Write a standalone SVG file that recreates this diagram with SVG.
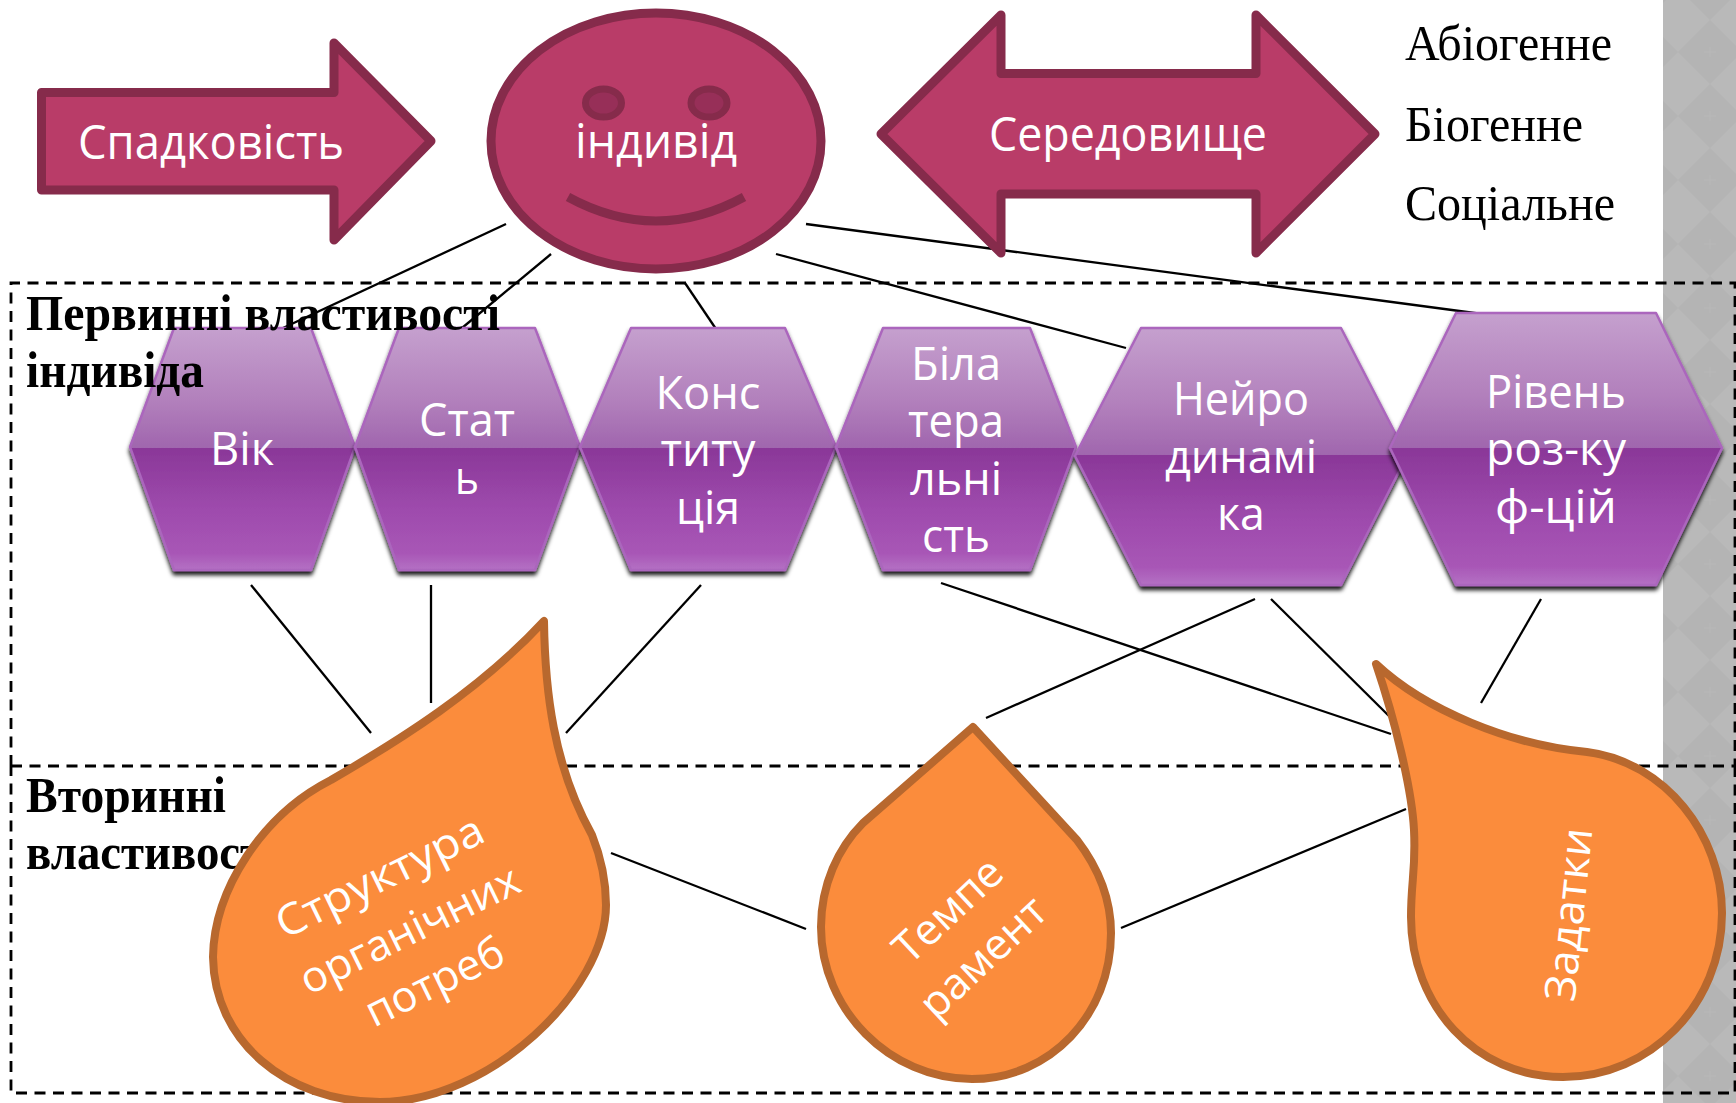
<svg xmlns="http://www.w3.org/2000/svg" width="1736" height="1103" viewBox="0 0 1736 1103">
<defs>
<style>
.sans{font-family:"Open Sans","Noto Sans",sans-serif;fill:#fff;font-size:46px;text-anchor:middle}
.big{font-size:48px}
.drop-t{font-size:43px}
.serif{font-family:"Liberation Serif",serif;fill:#000;font-size:50px}
.bold{font-weight:bold}
.shape-r{fill:#b93c68;stroke:#862b4b;stroke-width:9;stroke-linejoin:round}
.hex{fill:url(#hexg);stroke:#ab66bd;stroke-width:2.5;stroke-linejoin:round;filter:url(#hexsh)}
.drop{fill:#fb8c3c;stroke:#b8682e;stroke-width:8;stroke-linejoin:round}
.dash{fill:none;stroke:#000;stroke-width:2.8;stroke-dasharray:11 7.5}
.conn line{stroke:#000;stroke-width:2.3}
</style>
<linearGradient id="hexg" x1="0" y1="0" x2="0" y2="1">
<stop offset="0" stop-color="#c5a0ce"/><stop offset=".3" stop-color="#b280bc"/><stop offset=".495" stop-color="#a066ae"/>
<stop offset=".495" stop-color="#8a3798"/><stop offset=".75" stop-color="#9e4bad"/><stop offset=".93" stop-color="#a856b6"/><stop offset="1" stop-color="#b471c4"/>
</linearGradient>
<filter id="hexsh" x="-10%" y="-10%" width="120%" height="125%"><feDropShadow dx="0" dy="4" stdDeviation="2" flood-color="#000" flood-opacity=".9"/></filter>
<pattern id="tile" patternUnits="userSpaceOnUse" x="1678" y="20" width="64" height="64">
<rect width="64" height="64" fill="#b9b9b9"/>
<path d="M32,0L64,32L32,64L0,32Z" fill="#b4b4b4"/>
<path d="M32,27V37M26,32H38" stroke="#b9b9b9" stroke-width="1" fill="none"/>
</pattern>
</defs>
<rect width="1736" height="1103" fill="#fff"/>
<rect x="1663" y="0" width="73" height="1103" fill="url(#tile)"/>

<g id="frames">
<path class="dash" d="M11,766V283H1735V766"/>
<path class="dash" d="M1735,766V1093H11V766"/>
<path class="dash" d="M11,766H1735"/>
</g>

<g id="connectors" class="conn">
<line x1="506" y1="224" x2="283" y2="328"/>
<line x1="551" y1="254" x2="462" y2="328"/>
<line x1="685" y1="283" x2="716" y2="329"/>
<line x1="776" y1="254" x2="1126" y2="348"/>
<line x1="806" y1="224" x2="1482" y2="314"/>
<line x1="251" y1="585" x2="371" y2="733"/>
<line x1="431" y1="585" x2="431" y2="703"/>
<line x1="701" y1="585" x2="566" y2="733"/>
<line x1="941" y1="583" x2="1391" y2="734"/>
<line x1="1255" y1="599" x2="986" y2="718"/>
<line x1="1271" y1="599" x2="1391" y2="718"/>
<line x1="1541" y1="599" x2="1481" y2="703"/>
<line x1="611" y1="853" x2="806" y2="929"/>
<line x1="1121" y1="928" x2="1406" y2="809"/>
</g>

<g id="spadkovist">
<path class="shape-r" d="M41.5,92.5H334V43L431,141L334,240V190H41.5Z"/>
<text class="sans big" x="211" y="159" textLength="266" lengthAdjust="spacingAndGlyphs">Спадковість</text>
</g>
<g id="individ">
<ellipse class="shape-r" cx="656" cy="141" rx="165" ry="128"/>
<ellipse cx="603.5" cy="103" rx="18" ry="14" fill="#972f58" stroke="#862b4b" stroke-width="7"/>
<ellipse cx="709" cy="103" rx="18" ry="14" fill="#972f58" stroke="#862b4b" stroke-width="7"/>
<path d="M568,197Q656,245 744,197" fill="none" stroke="#862b4b" stroke-width="9"/>
<text class="sans big" x="656" y="158" textLength="162" lengthAdjust="spacingAndGlyphs">індивід</text>
</g>
<g id="seredovyshche">
<path class="shape-r" d="M881,134L1001,15V73.5H1256V15L1375,134L1256,253V194H1001V253Z"/>
<text class="sans big" x="1128" y="151" textLength="278" lengthAdjust="spacingAndGlyphs">Середовище</text>
</g>
<g id="env-list">
<text class="serif" x="1405" y="60" textLength="207" lengthAdjust="spacingAndGlyphs">Абіогенне</text>
<text class="serif" x="1405" y="141" textLength="178" lengthAdjust="spacingAndGlyphs">Біогенне</text>
<text class="serif" x="1405" y="220" textLength="210" lengthAdjust="spacingAndGlyphs">Соціальне</text>
</g>

<g id="hex-vik">
<path class="hex" d="M130,447L174,328H311L355,447L311,570H174Z"/>
<text class="sans" x="242" y="465" textLength="64" lengthAdjust="spacingAndGlyphs">Вік</text>
</g>
<g id="hex-stat">
<path class="hex" d="M355,447L399,328H535L580,447L535,570H399Z"/>
<text class="sans" x="467" y="436" textLength="96" lengthAdjust="spacingAndGlyphs">Стат</text>
<text class="sans" x="467" y="494" textLength="24" lengthAdjust="spacingAndGlyphs">ь</text>
</g>
<g id="hex-konst">
<path class="hex" d="M580,447L631,328H785L836,447L785,570H631Z"/>
<text class="sans" x="708" y="409" textLength="105" lengthAdjust="spacingAndGlyphs">Конс</text>
<text class="sans" x="708" y="466" textLength="95" lengthAdjust="spacingAndGlyphs">титу</text>
<text class="sans" x="708" y="524" textLength="64" lengthAdjust="spacingAndGlyphs">ція</text>
</g>
<g id="hex-bila">
<path class="hex" d="M836,447L883,328H1030L1076,447L1030,570H883Z"/>
<text class="sans" x="956" y="380" textLength="90" lengthAdjust="spacingAndGlyphs">Біла</text>
<text class="sans" x="956" y="437" textLength="96" lengthAdjust="spacingAndGlyphs">тера</text>
<text class="sans" x="956" y="495" textLength="92" lengthAdjust="spacingAndGlyphs">льні</text>
<text class="sans" x="956" y="552" textLength="68" lengthAdjust="spacingAndGlyphs">сть</text>
</g>
<g id="hex-neuro">
<path class="hex" d="M1075,456L1141,328H1341L1407,456L1341,585H1141Z"/>
<text class="sans" x="1241" y="415" textLength="136" lengthAdjust="spacingAndGlyphs">Нейро</text>
<text class="sans" x="1241" y="473" textLength="152" lengthAdjust="spacingAndGlyphs">динамі</text>
<text class="sans" x="1241" y="530" textLength="48" lengthAdjust="spacingAndGlyphs">ка</text>
</g>
<g id="hex-riven">
<path class="hex" d="M1390,448L1456,313H1656L1722,448L1656,585H1456Z"/>
<text class="sans" x="1556" y="408" textLength="140" lengthAdjust="spacingAndGlyphs">Рівень</text>
<text class="sans" x="1556" y="465" textLength="140" lengthAdjust="spacingAndGlyphs">роз-ку</text>
<text class="sans" x="1556" y="523" textLength="122" lengthAdjust="spacingAndGlyphs">ф-цій</text>
</g>

<g id="label-primary">
<text class="serif bold" x="26" y="330" textLength="474" lengthAdjust="spacingAndGlyphs">Первинні властивості</text>
<text class="serif bold" x="26" y="387" textLength="178" lengthAdjust="spacingAndGlyphs">індивіда</text>
</g>
<g id="label-secondary">
<text class="serif bold" x="26" y="812" textLength="200" lengthAdjust="spacingAndGlyphs">Вторинні</text>
<text class="serif bold" x="26" y="869" textLength="250" lengthAdjust="spacingAndGlyphs">властивості</text>
</g>

<g id="drop-struktura">
<path class="drop" d="M544,621C545,690 553,765 592,835C600,855 606,880 606,905C606,990 490,1102 380,1102C285,1102 214,1040 213,957C214,890 262,815 331,780C400,740 480,690 544,621Z"/>
<text class="sans drop-t" transform="translate(386,890) rotate(-26)" textLength="226" lengthAdjust="spacingAndGlyphs">Структура</text>
<text class="sans drop-t" transform="translate(416,943) rotate(-26)" textLength="239" lengthAdjust="spacingAndGlyphs">органічних</text>
<text class="sans drop-t" transform="translate(441,995) rotate(-26)" textLength="149" lengthAdjust="spacingAndGlyphs">потреб</text>
</g>
<g id="drop-temperament">
<path class="drop" d="M973,727L1077,840C1100,870 1111,900 1111,933C1111,1015 1050,1079 972,1079C890,1079 821,1010 821,927C821,885 838,848 863,823Z"/>
<text class="sans drop-t" transform="translate(958,921) rotate(-43)" textLength="132" lengthAdjust="spacingAndGlyphs">Темпе</text>
<text class="sans drop-t" transform="translate(993,968) rotate(-43)" textLength="156" lengthAdjust="spacingAndGlyphs">рамент</text>
</g>
<g id="drop-zadatky">
<path class="drop" d="M1376,664C1425,710 1510,745 1587,752C1665,762 1722,835 1722,913C1722,1005 1650,1077 1563,1077C1475,1077 1411,1005 1411,917C1411,880 1416,870 1414,830C1412,790 1395,720 1376,664Z"/>
<text class="sans drop-t" transform="translate(1583.5,916) rotate(-84)" textLength="174" lengthAdjust="spacingAndGlyphs">Задатки</text>
</g>
</svg>
